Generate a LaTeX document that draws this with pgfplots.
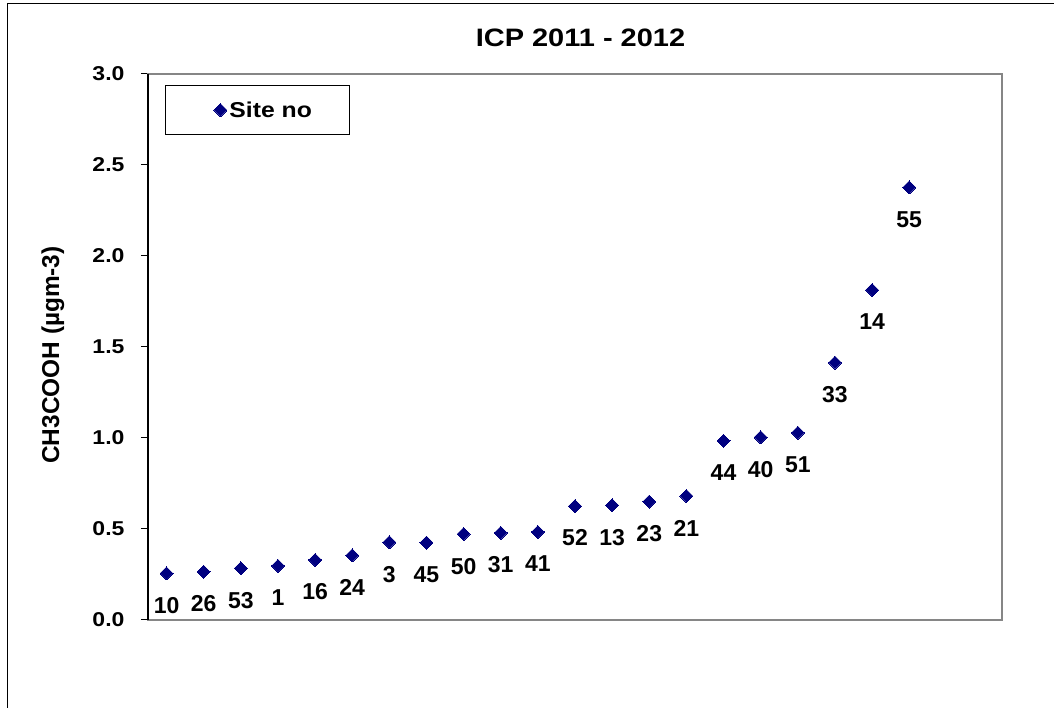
\documentclass[border=0pt]{standalone}
\usepackage{fontspec}
\setmainfont{Liberation Sans}
\newfontfamily\widesans{Liberation Sans}[FakeStretch=1.15]
\usepackage{pgfplots}
\pgfplotsset{compat=1.18}
\usepackage{pgfplotstable}
\definecolor{navy}{RGB}{0,0,128}
\definecolor{framegray}{RGB}{134,134,134}
\pgfplotstableread{
x y lab
1 0.256 10
2 0.265 26
3 0.284 53
4 0.297 1
5 0.330 16
6 0.355 24
7 0.427 3
8 0.425 45
9 0.472 50
10 0.478 31
11 0.484 41
12 0.626 52
13 0.630 13
14 0.650 23
15 0.681 21
16 0.984 44
17 1.004 40
18 1.029 51
19 1.414 33
20 1.813 14
21 2.377 55
}\data
\begin{document}
\begin{tikzpicture}[x=1pt,y=1pt]
\useasboundingbox (0,0) rectangle (1054,708);
\draw[black, line width=1.5pt] (7.5,-20) rectangle (1070,704.5);
\node[font=\fontsize{25.2}{30}\widesans\bfseries, inner sep=0pt] at (580.5,670) {ICP 2011 - 2012};
\begin{axis}[
  at={(148pt,88pt)}, anchor=south west,
  scale only axis, width=854pt, height=546pt,
  xmin=0.5, xmax=23.5, ymin=0, ymax=3,
  xtick=\empty,
  ytick={0,0.5,1,1.5,2,2.5,3},
  ytick pos=left, tick align=outside, major tick length=7pt,
  tick style={black, line width=1pt},
  axis line style={framegray, line width=2pt},
  y tick label style={/pgf/number format/.cd, fixed, fixed zerofill, precision=1, assume math mode=true},
  tick label style={font=\fontsize{20}{24}\widesans\bfseries, xshift=-13pt},
  ylabel={CH3COOH (µgm-3)},
  ylabel style={at={(axis description cs:-0.1113,0.4853)}, anchor=center, font=\fontsize{24.4}{28}\selectfont\bfseries},
  clip=false,
  legend style={at={(0.0199,0.9799)}, anchor=north west, draw=black, line width=1pt,
    font=\fontsize{21.5}{25}\widesans\bfseries, inner xsep=36pt, inner ysep=14pt},
  legend cell align=left,
  legend image code/.code={\path[draw=none, fill=none] (0pt,0pt) -- (26pt,0pt); \draw[#1] plot coordinates {(19pt,0pt)};},
]
\addplot[only marks, mark=square*, mark size=4.6pt, mark options={rotate=45, fill=navy, draw=navy, line width=0pt},
  nodes near coords, point meta=explicit symbolic,
  every node near coord/.append style={anchor=center, yshift=-32pt, font=\fontsize{23}{27}\selectfont\bfseries, text=black}]
  table[x=x, y=y, meta=lab] {\data};
\addlegendentry{Site no}
\draw[black, line width=1.2pt] (rel axis cs:0,0) -- (rel axis cs:0,1);
\end{axis}
\end{tikzpicture}
\end{document}
